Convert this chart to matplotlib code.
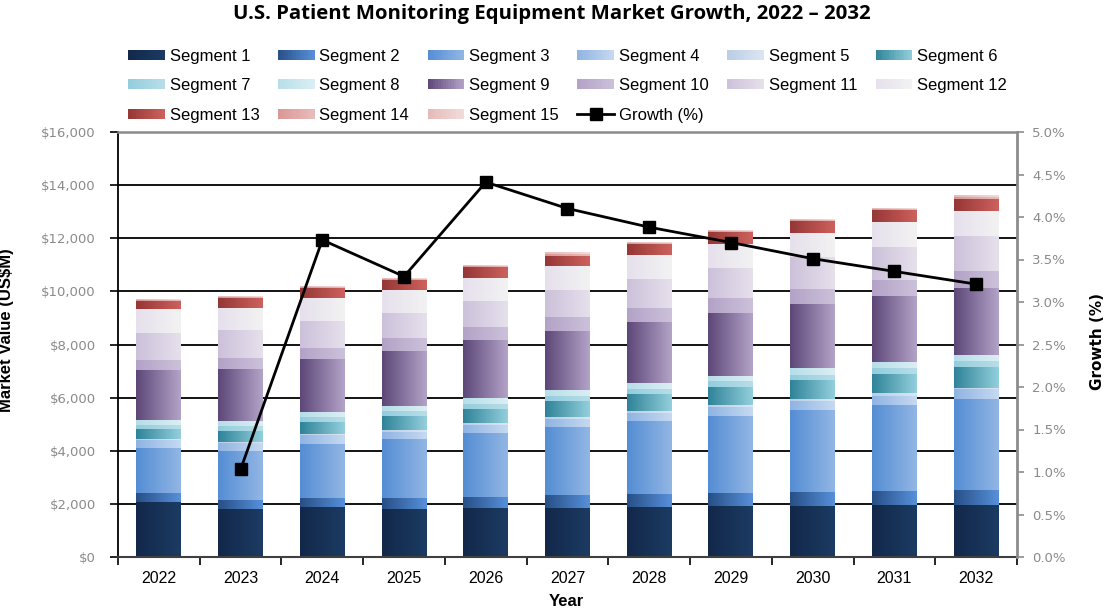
import numpy as np
import matplotlib
matplotlib.use("Agg")
import matplotlib.pyplot as plt
from matplotlib.patches import Rectangle, Patch
from matplotlib.lines import Line2D
from matplotlib.legend_handler import HandlerBase
from matplotlib.colors import to_rgb
from matplotlib.ticker import FuncFormatter, MultipleLocator, FixedLocator

# ---------------- data ----------------
years = ["2022", "2023", "2024", "2025", "2026", "2027", "2028", "2029", "2030", "2031", "2032"]

seg1 = [2075, 1811, 1887, 1811, 1849, 1849, 1887, 1925, 1925, 1962, 1962]
seg2 = [340, 340, 339, 415, 415, 491, 490, 490, 528, 529, 566]
seg3 = [1698, 1849, 2038, 2227, 2415, 2566, 2755, 2906, 3094, 3245, 3434]
seg4 = [277, 277, 315, 264, 302, 302, 302, 339, 340, 339, 378]
seg5 = [63, 63, 63, 75, 76, 75, 75, 76, 75, 114, 37]
seg6 = [377, 415, 452, 529, 528, 604, 642, 679, 717, 717, 793]
seg7 = [151, 188, 189, 188, 189, 188, 189, 227, 189, 226, 226]
seg8 = [189, 189, 189, 189, 226, 227, 226, 188, 264, 226, 227]
seg9 = [1887, 1962, 2000, 2076, 2151, 2189, 2264, 2340, 2377, 2453, 2490]
seg10 = [377, 415, 415, 452, 491, 528, 528, 566, 566, 604, 642]
seg11 = [981, 1019, 981, 944, 981, 1019, 1095, 1132, 1208, 1245, 1320]
seg12 = [906, 830, 868, 868, 868, 905, 905, 906, 906, 944, 944]
seg13 = [302, 378, 377, 377, 415, 378, 416, 452, 453, 453, 453]
seg14 = [45, 45, 46, 46, 45, 68, 45, 46, 45, 45, 68]
seg15 = [30, 30, 30, 30, 30, 45, 30, 30, 30, 30, 45]

growth = [np.nan, 1.03, 3.73, 3.30, 4.41, 4.10, 3.88, 3.70, 3.51, 3.36, 3.21]

segment_names = ["Segment 1", "Segment 2", "Segment 3", "Segment 4", "Segment 5",
                 "Segment 6", "Segment 7", "Segment 8", "Segment 9", "Segment 10",
                 "Segment 11", "Segment 12", "Segment 13", "Segment 14", "Segment 15"]
growth_name = "Growth (%)"

segments = [seg1, seg2, seg3, seg4, seg5, seg6, seg7, seg8, seg9, seg10,
            seg11, seg12, seg13, seg14, seg15]

# gradient colours (left dark -> right light)
grad_colors = [
    ("#12284a", "#1c3b63"),
    ("#274f86", "#5790da"),
    ("#548dd4", "#92b6e4"),
    ("#8fb4e3", "#c6d9f1"),
    ("#b9cde5", "#dce6f2"),
    ("#2f8398", "#93cfdd"),
    ("#93cddd", "#b7dee8"),
    ("#b7dee8", "#dbeef4"),
    ("#5d4778", "#b4a3c8"),
    ("#b3a2c7", "#ccc1da"),
    ("#ccc1da", "#e6e0ec"),
    ("#e6e0ec", "#f2f2f2"),
    ("#953735", "#cd615d"),
    ("#d99694", "#e8bcbb"),
    ("#e6b9b8", "#f2dcdb"),
]


def mix(c0, c1, t):
    a = np.array(to_rgb(c0))
    b = np.array(to_rgb(c1))
    return tuple(a + (b - a) * t)


def grad_array(c0, c1, n=64):
    t = np.linspace(0, 1, n)
    a = np.array(to_rgb(c0))
    b = np.array(to_rgb(c1))
    return (a[None, :] + (b - a)[None, :] * t[:, None])[None, :, :]


# ---------------- figure ----------------
W, H = 1107, 610
fig = plt.figure(figsize=(W / 100, H / 100), dpi=100)
ax = fig.add_axes([118 / W, 53 / H, 899 / W, 425 / H])

x = np.arange(len(years))
bottom = np.zeros(len(years))
bar_w = 0.55
for vals, (c0, c1) in zip(segments, grad_colors):
    vals = np.array(vals, dtype=float)
    bars = ax.bar(x, vals, bar_w, bottom=bottom, color=mix(c0, c1, 0.5),
                  edgecolor="none", linewidth=0, zorder=2)
    img = grad_array(c0, c1)
    for rect in bars:
        x0, y0 = rect.get_x(), rect.get_y()
        ax.imshow(img, extent=[x0, x0 + rect.get_width(), y0, y0 + rect.get_height()],
                  aspect="auto", interpolation="bilinear", zorder=2.1)
    bottom += vals

ax.set_xlim(-0.5, len(years) - 0.5)
ax.set_ylim(0, 16000)
ax.set_aspect("auto")
ax.yaxis.set_major_locator(MultipleLocator(2000))
ax.yaxis.set_major_formatter(FuncFormatter(lambda v, p: f"${v:,.0f}"))
ax.grid(axis="y", color="black", linewidth=1.3, zorder=0)
ax.set_axisbelow(True)

ax.set_xticks(x)
ax.set_xticklabels(years, fontsize=11.5, family="Liberation Sans")
ax.xaxis.set_minor_locator(FixedLocator(np.arange(-0.5, len(years), 1.0)))
ax.tick_params(axis="x", which="major", length=0, pad=10)
ax.tick_params(axis="x", which="minor", length=6, width=1.2, direction="out", color="black")
ax.tick_params(axis="y", which="major", length=6, width=1.2, direction="out",
               labelsize=9.5, labelcolor="#8a8a8a", pad=10)

ax.spines["left"].set_color("black")
ax.spines["left"].set_linewidth(1.3)
ax.spines["bottom"].set_color("#404040")
ax.spines["bottom"].set_linewidth(1.5)
ax.spines["top"].set_color("#8c8c8c")
ax.spines["top"].set_linewidth(1.8)
ax.spines["right"].set_visible(False)

ax2 = ax.twinx()
ax2.set_ylim(0, 5)
ax2.yaxis.set_major_locator(MultipleLocator(0.5))
ax2.yaxis.set_major_formatter(FuncFormatter(lambda v, p: f"{v:.1f}%"))
ax2.tick_params(axis="y", length=5, width=1.2, direction="out", color="#8c8c8c",
                labelsize=9.5, labelcolor="#8a8a8a", pad=6)
for sp in ["left", "top", "bottom"]:
    ax2.spines[sp].set_visible(False)
ax2.spines["right"].set_color("#8c8c8c")
ax2.spines["right"].set_linewidth(2)
line, = ax2.plot(x, growth, color="black", linewidth=2, marker="s",
                 markersize=9, markerfacecolor="black", markeredgecolor="black", zorder=5)

# ---------------- texts ----------------
fig.text(552 / W, 1 - 14 / H, "U.S. Patient Monitoring Equipment Market Growth, 2022 \u2013 2032",
         ha="center", va="center", fontsize=14.7, fontweight="bold", family="Open Sans")
fig.text(7 / W, 1 - 330 / H, "Market Value (US$M)", rotation=90, ha="center", va="center",
         fontsize=12, fontweight="bold", family="Liberation Sans")
fig.text(1097 / W, 1 - 341 / H, "Growth (%)", rotation=90, ha="center", va="center",
         fontsize=11, fontweight="bold", family="DejaVu Sans")
fig.text(566 / W, 1 - 602 / H, "Year", ha="center", va="center",
         fontsize=12, fontweight="bold", family="Liberation Sans")


# ---------------- legend ----------------
class GradHandler(HandlerBase):
    def __init__(self, c0, c1, n=14):
        super().__init__()
        self.c0, self.c1, self.n = c0, c1, n

    def create_artists(self, legend, orig_handle, xdescent, ydescent, width, height,
                       fontsize, trans):
        arts = []
        for i in range(self.n):
            c = mix(self.c0, self.c1, (i + 0.5) / self.n)
            r = Rectangle((-xdescent + width * i / self.n, -ydescent),
                          width / self.n * 1.05, height, facecolor=c,
                          edgecolor="none", linewidth=0, transform=trans)
            arts.append(r)
        return arts


seg_handles = [Patch(label=n) for n in segment_names]
hmap = {h: GradHandler(c0, c1) for h, (c0, c1) in zip(seg_handles, grad_colors)}
line_handle = Line2D([], [], color="black", linewidth=2, marker="s", markersize=8)

row_major = seg_handles + [line_handle]
labels_rm = segment_names + [growth_name]
ncol = 6
nrows = 3
# convert row-major ordering to matplotlib's column-major fill
order = []
for c in range(ncol):
    for r in range(nrows):
        idx = r * ncol + c
        if idx < len(row_major):
            order.append(idx)
handles = [row_major[i] for i in order]
labels = [labels_rm[i] for i in order]

leg = fig.legend(handles, labels, handler_map=hmap, loc="upper left",
                 bbox_to_anchor=(128 / W, 1 - 49 / H), ncol=ncol, frameon=False,
                 borderpad=0, borderaxespad=0, handlelength=2.2, handleheight=0.55,
                 handletextpad=0.3, columnspacing=1.1, labelspacing=0.86,
                 prop={"family": "Liberation Sans", "size": 12})

fig.savefig("out.png", dpi=100)
